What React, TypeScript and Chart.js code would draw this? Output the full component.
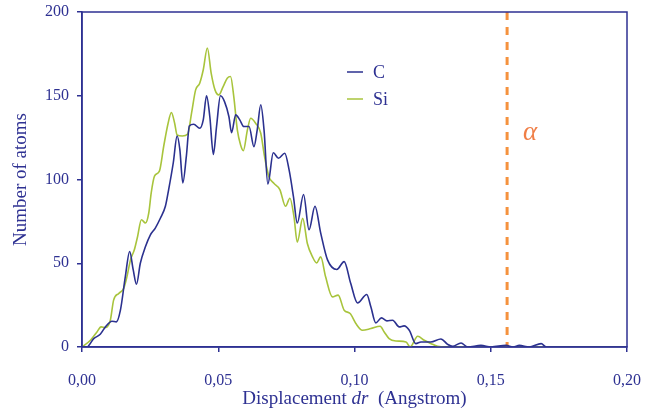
import React, { useEffect, useRef } from "react";
import { Chart, registerables } from "chart.js";

Chart.register(...registerables);

// ---- data ----
const cX = [0, 0.0018, 0.0043, 0.0067, 0.0086, 0.011, 0.0126, 0.0141, 0.0159, 0.0175, 0.0188, 0.02, 0.0214, 0.0233, 0.0251, 0.0269, 0.0288, 0.0306, 0.0318, 0.0335, 0.0349, 0.0359, 0.037, 0.0383, 0.0394, 0.041, 0.0432, 0.0445, 0.0457, 0.0469, 0.0482, 0.0494, 0.0508, 0.0523, 0.0539, 0.0549, 0.0564, 0.0579, 0.0594, 0.0613, 0.0631, 0.0643, 0.0656, 0.0668, 0.0682, 0.0702, 0.0721, 0.0744, 0.076, 0.0776, 0.079, 0.0813, 0.0833, 0.0855, 0.0876, 0.0901, 0.0935, 0.0962, 0.0986, 0.1011, 0.1045, 0.106, 0.1078, 0.1099, 0.1119, 0.114, 0.1164, 0.1182, 0.1201, 0.1225, 0.1244, 0.128, 0.1317, 0.1342, 0.136, 0.1391, 0.1415, 0.1464, 0.1501, 0.1556, 0.1582, 0.1605, 0.1641, 0.1685, 0.1704, 0.2];
const cY = [0, 0, 5, 7.6, 12, 15.4, 15, 22, 42, 57, 46, 37.5, 50, 60, 67, 71, 77, 84, 94, 110, 126, 118, 98, 114, 132, 133, 130.6, 135.6, 150, 137.6, 115, 132, 150, 146.5, 137.6, 128, 138.6, 135.6, 131.6, 131.6, 119.6, 129.6, 144.6, 129.6, 97.3, 116, 112.7, 115.7, 105.7, 89.7, 74, 91, 70, 84, 68, 52, 46.3, 51, 38, 26.3, 31.3, 24, 14.4, 17.4, 15.6, 16, 12, 12.6, 10, 2, 3, 3, 4.8, 1.6, 0.4, 2.4, 0, 1, 0, 1, 0, 1, 0, 2, 0, 0];

const siX = [0, 0.0031, 0.0055, 0.007, 0.0086, 0.0104, 0.0116, 0.0135, 0.0153, 0.0165, 0.0178, 0.0192, 0.0204, 0.0218, 0.0233, 0.0245, 0.0254, 0.0266, 0.0284, 0.03, 0.0316, 0.0328, 0.034, 0.0349, 0.0368, 0.0388, 0.0402, 0.0417, 0.0432, 0.0445, 0.046, 0.0474, 0.0488, 0.0502, 0.0518, 0.0533, 0.0545, 0.0557, 0.057, 0.0582, 0.0592, 0.0607, 0.0619, 0.0637, 0.0656, 0.067, 0.0686, 0.0704, 0.0726, 0.0747, 0.0763, 0.0778, 0.079, 0.081, 0.0827, 0.0846, 0.0861, 0.0876, 0.0894, 0.0919, 0.094, 0.0962, 0.0984, 0.1005, 0.1029, 0.106, 0.1094, 0.1109, 0.1127, 0.1152, 0.1189, 0.1204, 0.1232, 0.1256, 0.1281, 0.1305, 0.1336, 0.2];
const siY = [0, 4, 9, 12, 11.6, 16, 28, 32, 35, 42, 52, 58, 66, 76, 74, 80, 92, 102, 105, 120, 133.6, 140, 133.6, 126.6, 126, 127.2, 139.6, 153.5, 157.5, 165.5, 178.5, 163.5, 153.5, 150.5, 155.5, 160.5, 161.5, 149.5, 129.6, 120.6, 117.2, 129.6, 136.6, 133.6, 127.6, 113.6, 101.7, 97.7, 94, 84, 88.8, 77.7, 62.6, 76.8, 61.8, 53.8, 50.2, 53.8, 41.9, 29.9, 31, 22, 20, 14, 10, 11, 12.4, 9, 5, 3.6, 3, 0, 6.4, 4, 2, 0.4, 0, 0];

const seriesNames = ["C", "Si"];
const alphaX = 0.156;
const alphaLabel = "α";
const xTicks = [0, 0.05, 0.1, 0.15, 0.2];
const xTickLabels = ["0,00", "0,05", "0,10", "0,15", "0,20"];
const yTicks = [0, 50, 100, 150, 200];
const yTickLabels = ["0", "50", "100", "150", "200"];
const xTitleParts = ["Displacement ", "dr", "  (Angstrom)"];
const yTitle = "Number of atoms";

const NAVY = "#2E3192";
const C_COLOR = "#2B318F";
const SI_COLOR = "#A8C43C";
const ORANGE = "#F5923E";
const ALPHA_COLOR = "#F07E46";
const FONT = "'Liberation Serif', 'Times New Roman', serif";

export default function App() {
  const ref = useRef<HTMLCanvasElement | null>(null);

  useEffect(() => {
    document.body.style.margin = "0";
    const canvas = ref.current;
    if (!canvas) return;

    const decor = {
      id: "decor",
      afterDraw(chart: any) {
        const ctx = chart.ctx;
        const a = chart.chartArea;
        const xs = chart.scales.x;
        const ys = chart.scales.y;
        ctx.save();
        // frame
        ctx.strokeStyle = NAVY;
        ctx.lineWidth = 1.5;
        ctx.strokeRect(a.left, a.top, a.right - a.left, a.bottom - a.top);

        // alpha label
        ctx.fillStyle = ALPHA_COLOR;
        ctx.font = `italic 27px ${FONT}`;
        ctx.textAlign = "left";
        ctx.textBaseline = "middle";
        ctx.fillText(alphaLabel, xs.getPixelForValue(alphaX) + 16, ys.getPixelForValue(128));

        // legend
        const items = [
          { name: seriesNames[0], color: C_COLOR, y: 72 },
          { name: seriesNames[1], color: SI_COLOR, y: 99 },
        ];
        ctx.font = `18px ${FONT}`;
        items.forEach((it) => {
          ctx.strokeStyle = it.color;
          ctx.lineWidth = 1.5;
          ctx.beginPath();
          ctx.moveTo(347, it.y);
          ctx.lineTo(363, it.y);
          ctx.stroke();
          ctx.fillStyle = NAVY;
          ctx.fillText(it.name, 373, it.y + 1);
        });

        // y title
        ctx.save();
        ctx.translate(21, (a.top + a.bottom) / 2);
        ctx.rotate(-Math.PI / 2);
        ctx.textAlign = "center";
        ctx.textBaseline = "middle";
        ctx.fillStyle = NAVY;
        ctx.font = `19px ${FONT}`;
        ctx.fillText(yTitle, 0, 0);
        ctx.restore();

        // x title with italic part
        const fonts = [`19px ${FONT}`, `italic 19px ${FONT}`, `19px ${FONT}`];
        let total = 0;
        const widths = xTitleParts.map((p, i) => {
          ctx.font = fonts[i];
          const w = ctx.measureText(p).width;
          total += w;
          return w;
        });
        let x = (a.left + a.right) / 2 - total / 2;
        ctx.textAlign = "left";
        ctx.textBaseline = "middle";
        ctx.fillStyle = NAVY;
        xTitleParts.forEach((p, i) => {
          ctx.font = fonts[i];
          ctx.fillText(p, x, 399);
          x += widths[i];
        });
        ctx.restore();
      },
    };

    const chart = new Chart(canvas, {
      type: "line",
      data: {
        datasets: [
          {
            label: seriesNames[0],
            data: cX.map((x, i) => ({ x, y: cY[i] })),
            borderColor: C_COLOR,
            borderWidth: 1.6,
            pointRadius: 0,
            cubicInterpolationMode: "monotone",
          },
          {
            label: seriesNames[1],
            data: siX.map((x, i) => ({ x, y: siY[i] })),
            borderColor: SI_COLOR,
            borderWidth: 1.6,
            pointRadius: 0,
            cubicInterpolationMode: "monotone",
          },
          {
            label: "alpha",
            data: [
              { x: alphaX, y: 200 },
              { x: alphaX, y: 0 },
            ],
            borderColor: ORANGE,
            borderWidth: 3,
            borderDash: [8, 7],
            pointRadius: 0,
          },
        ] as any,
      },
      options: {
        animation: false,
        responsive: false,
        maintainAspectRatio: false,
        layout: { padding: { top: 12, right: 29, left: 0, bottom: 0 } },
        plugins: {
          legend: { display: false },
          tooltip: { enabled: false },
        },
        scales: {
          x: {
            type: "linear",
            min: 0,
            max: 0.2,
            afterBuildTicks: (s: any) => {
              s.ticks = xTicks.map((v) => ({ value: v }));
            },
            afterFit: (s: any) => {
              s.height = 65;
              s.paddingLeft = 0;
              s.paddingRight = 0;
            },
            ticks: {
              callback: (_v: any, i: number) => xTickLabels[i],
              color: NAVY,
              font: { family: FONT, size: 16 },
              padding: 19,
              maxRotation: 0,
            },
            grid: { drawOnChartArea: false, color: NAVY, tickLength: 5, lineWidth: 1.5 },
            border: { display: true, color: NAVY, width: 1.5 },
          },
          y: {
            min: 0,
            max: 200,
            afterBuildTicks: (s: any) => {
              s.ticks = yTicks.map((v) => ({ value: v }));
            },
            afterFit: (s: any) => {
              s.width = 82;
              s.paddingTop = 0;
              s.paddingBottom = 0;
            },
            ticks: {
              callback: (_v: any, i: number) => yTickLabels[i],
              color: NAVY,
              font: { family: FONT, size: 16 },
              padding: 8,
            },
            grid: { drawOnChartArea: false, color: NAVY, tickLength: 5, lineWidth: 1.5 },
            border: { display: true, color: NAVY, width: 1.5 },
          },
        },
      },
      plugins: [decor],
    });

    return () => chart.destroy();
  }, []);

  return (
    <div style={{ width: 656, height: 412 }}>
      <canvas ref={ref} width={656} height={412} style={{ display: "block" }} />
    </div>
  );
}
